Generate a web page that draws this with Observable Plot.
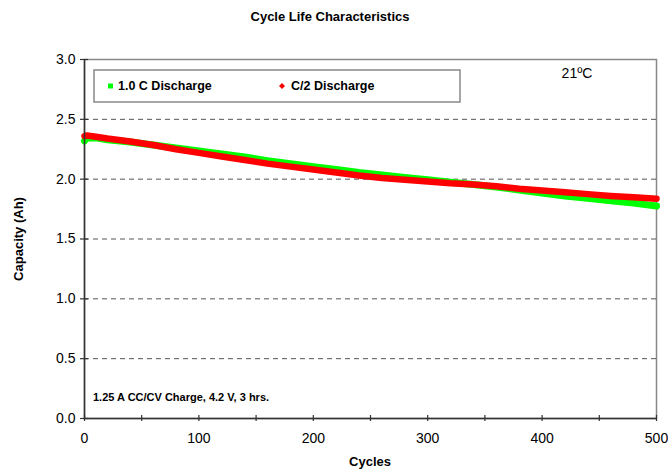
<!DOCTYPE html>
<html><head><meta charset="utf-8">
<script src="https://cdn.jsdelivr.net/npm/d3@7"></script>
<script src="https://cdn.jsdelivr.net/npm/@observablehq/plot@0.6"></script>
<style>body{margin:0;background:#fff}</style>
</head><body><div id="chart"></div>
<script>
const cycles      = [0, 2, 10, 20, 40, 60, 80, 100, 120, 140, 160, 180, 200, 220, 240, 260, 280, 300, 320, 340, 360, 380, 400, 420, 440, 460, 480, 500];
const discharge1C = [2.32, 2.345, 2.345, 2.33, 2.31, 2.285, 2.26, 2.235, 2.21, 2.185, 2.155, 2.13, 2.105, 2.08, 2.055, 2.035, 2.015, 1.995, 1.975, 1.955, 1.935, 1.91, 1.885, 1.86, 1.84, 1.82, 1.80, 1.775];
const dischargeC2 = [2.36, 2.365, 2.355, 2.34, 2.315, 2.285, 2.25, 2.22, 2.19, 2.16, 2.13, 2.105, 2.08, 2.055, 2.03, 2.01, 1.995, 1.98, 1.965, 1.955, 1.94, 1.92, 1.905, 1.89, 1.875, 1.86, 1.848, 1.836];
const xTicks = [0, 100, 200, 300, 400, 500];
const xMinor = [0, 50, 100, 150, 200, 250, 300, 350, 400, 450, 500];
const yTicks = [0, 0.5, 1.0, 1.5, 2.0, 2.5, 3.0];
const gridY  = [0.5, 1.0, 1.5, 2.0, 2.5];
const seriesNames = ["1.0 C Discharge", "C/2 Discharge"];
const title = "Cycle Life Characteristics";
const xLabel = "Cycles";
const yLabel = "Capacity (Ah)";
const tempNote = "21ºC";
const chargeNote = "1.25 A CC/CV Charge, 4.2 V, 3 hrs.";

const green = cycles.map((c, i) => ({cycle: c, cap: discharge1C[i]}));
const red   = cycles.map((c, i) => ({cycle: c, cap: dischargeC2[i]}));

const narrow = "'Liberation Sans Narrow','Arial Narrow','Liberation Sans',Arial,sans-serif";
const regular = "'Liberation Sans',Arial,sans-serif";

const plot = Plot.plot({
  width: 668, height: 473,
  marginLeft: 84, marginRight: 12, marginTop: 59, marginBottom: 55,
  style: {fontFamily: regular, fontSize: "14px", background: "#fff", color: "#000", overflow: "visible"},
  x: {domain: [0, 500], label: null},
  y: {domain: [0, 3], label: null},
  marks: [
    Plot.frame({stroke: "#888", strokeWidth: 1.5}),
    Plot.ruleY(gridY, {y: d => d, stroke: "#555", strokeDasharray: "5,4", strokeWidth: 1}),
    Plot.line(green, {x: "cycle", y: "cap", stroke: "#00ff00", strokeWidth: 7}),
    Plot.line(red, {x: "cycle", y: "cap", stroke: "#ff0000", strokeWidth: 6.5}),
    Plot.ruleX([0], {stroke: "#333", strokeWidth: 1.5}),
    Plot.ruleY([0], {stroke: "#333", strokeWidth: 1.5}),
    Plot.ruleX(xMinor, {x: d => d, y1: -0.025, y2: 0.025, stroke: "#333", strokeWidth: 1.2}),
    Plot.ruleY(yTicks, {y: d => d, x1: -3.5, x2: 3.5, stroke: "#333", strokeWidth: 1.2}),
    Plot.axisX({ticks: xTicks, tickSize: 0, tickPadding: 15, tickFormat: d => String(d), fontSize: 14}),
    Plot.axisY({ticks: yTicks, tickSize: 0, tickPadding: 9, tickFormat: d3.format(".1f"), fontSize: 14}),
  ]
});

document.getElementById("chart").appendChild(plot);
const svg = d3.select(plot);

svg.append("text").attr("x", 330).attr("y", 18).attr("text-anchor", "middle").attr("dominant-baseline", "middle")
  .style("font-family", narrow).style("font-weight", "bold").style("font-size", "13px").text(title);
svg.append("text").attr("x", 370).attr("y", 463).attr("text-anchor", "middle").attr("dominant-baseline", "middle")
  .style("font-family", narrow).style("font-weight", "bold").style("font-size", "13px").text(xLabel);
svg.append("text").attr("transform", "translate(20,239) rotate(-90)").attr("text-anchor", "middle").attr("dominant-baseline", "middle")
  .style("font-family", narrow).style("font-weight", "bold").style("font-size", "13px").text(yLabel);

// legend
const lg = svg.append("g");
lg.append("rect").attr("x", 94).attr("y", 70).attr("width", 366).attr("height", 32)
  .attr("fill", "#fff").attr("stroke", "#888").attr("stroke-width", 1.5);
lg.append("rect").attr("x", 108).attr("y", 83.5).attr("width", 5).attr("height", 5).attr("fill", "#00ff00");
lg.append("text").attr("x", 118).attr("y", 87).attr("text-anchor", "start").attr("dominant-baseline", "middle")
  .style("font-family", narrow).style("font-weight", "bold").style("font-size", "12.5px").text(seriesNames[0]);
lg.append("path").attr("d", "M282,83 L285,86 L282,89 L279,86 Z").attr("fill", "#ff0000");
lg.append("text").attr("x", 291).attr("y", 87).attr("text-anchor", "start").attr("dominant-baseline", "middle")
  .style("font-family", narrow).style("font-weight", "bold").style("font-size", "12.5px").text(seriesNames[1]);

svg.append("text").attr("x", 577).attr("y", 74).attr("text-anchor", "middle").attr("dominant-baseline", "middle")
  .style("font-family", regular).style("font-size", "14px").text(tempNote);
svg.append("text").attr("x", 93).attr("y", 398).attr("text-anchor", "start").attr("dominant-baseline", "middle")
  .style("font-family", narrow).style("font-weight", "bold").style("font-size", "11px").text(chargeNote);
</script>
</body></html>
